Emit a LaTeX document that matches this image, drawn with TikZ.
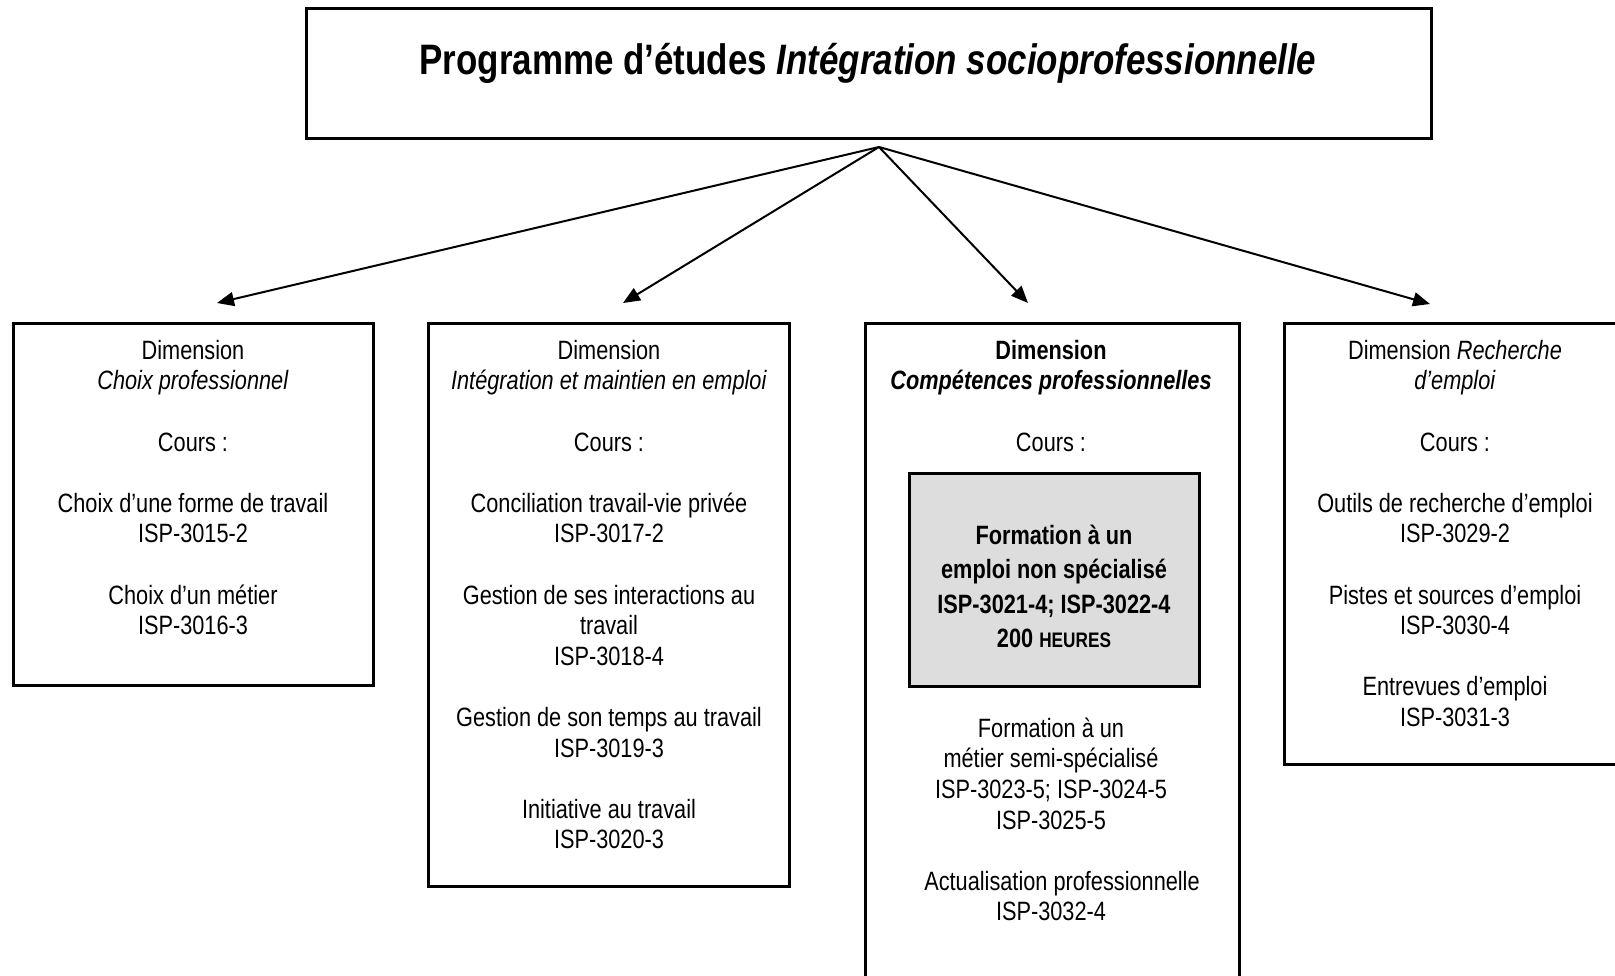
\documentclass[tikz,border=0pt]{standalone}
\usepackage{fontspec}
\setmainfont{Liberation Sans}[FakeStretch=0.82]
\usetikzlibrary{arrows.meta}
\definecolor{grayfill}{RGB}{221,221,221}
\begin{document}
\begin{tikzpicture}[x=1pt,y=-1pt,
  box/.style={draw=black,line width=3pt,outer sep=0pt,inner sep=0pt,anchor=north west},
  body/.style={align=center,inner sep=0pt,anchor=north,font=\fontsize{26.5}{30.6}\selectfont},
  graytext/.style={align=center,inner sep=0pt,anchor=north,font=\fontsize{26.5}{34.5}\selectfont\bfseries},
  titletext/.style={inner sep=0pt,anchor=base,font=\fontsize{42.6}{50}\selectfont\bfseries},
  link/.style={line width=2pt,-{Triangle[length=17pt,width=14pt]}}]
\useasboundingbox (0,0) rectangle (1615,975);

% boxes
\node[box, minimum width=1125pt, minimum height=130pt] (title) at (306,8) {};
\node[box, minimum width=360pt, minimum height=362pt] (b1) at (13,323) {};
\node[box, minimum width=361pt, minimum height=563pt] (b2) at (428,323) {};
\node[box, minimum width=374pt, minimum height=690pt] (b3) at (865,323) {};
\node[box, minimum width=342pt, minimum height=441pt] (b4) at (1284,323) {};
\node[box, fill=grayfill, minimum width=290pt, minimum height=213pt] (g) at (909,473) {};

% title
\node[titletext] (tt) at (868,74) {Programme d’études \textit{Intégration socioprofessionnelle}};

% arrows
\coordinate (o) at (879,147);
\coordinate (t1) at (217,303);
\coordinate (t2) at (623,303);
\coordinate (t3) at (1028,303);
\coordinate (t4) at (1430,304);
\draw[link] (o) -- (t1);
\draw[link] (o) -- (t2);
\draw[link] (o) -- (t3);
\draw[link] (o) -- (t4);

% box texts
\node[body] (x1) at (193,337.6) {\strut Dimension\\\textit{Choix professionnel}\\[30.6pt]Cours~:\\[30.6pt]Choix d’une forme de travail\\ISP-3015-2\\[30.6pt]Choix d’un métier\\ISP-3016-3};

\node[body] (x2) at (609,337.6) {\strut Dimension\\\textit{Intégration et maintien en emploi}\\[30.6pt]Cours~:\\[30.6pt]Conciliation travail-vie privée\\ISP-3017-2\\[30.6pt]Gestion de ses interactions au\\travail\\ISP-3018-4\\[30.6pt]Gestion de son temps au travail\\ISP-3019-3\\[30.6pt]Initiative au travail\\ISP-3020-3};

\node[body] (x3) at (1051,337.6) {\strut\textbf{Dimension}\\\textbf{\textit{Compétences professionnelles}}\\[30.6pt]Cours~:};

\node[graytext] (xg) at (1054,520) {\strut Formation à un\\emploi non spécialisé\\ISP-3021-4; ISP-3022-4\\200 {\fontsize{21}{34.5}\selectfont HEURES}};

\node[body] (x3b) at (1051,715.6) {\strut Formation à un\\métier semi-spécialisé\\ISP-3023-5; ISP-3024-5\\ISP-3025-5\\[30.6pt]\hspace*{22pt}Actualisation professionnelle\\ISP-3032-4};

\node[body] (x4) at (1455,337.6) {\strut Dimension \textit{Recherche}\\\textit{d’emploi}\\[30.6pt]Cours~:\\[30.6pt]Outils de recherche d’emploi\\ISP-3029-2\\[30.6pt]Pistes et sources d’emploi\\ISP-3030-4\\[30.6pt]Entrevues d’emploi\\ISP-3031-3};
\end{tikzpicture}
\end{document}
